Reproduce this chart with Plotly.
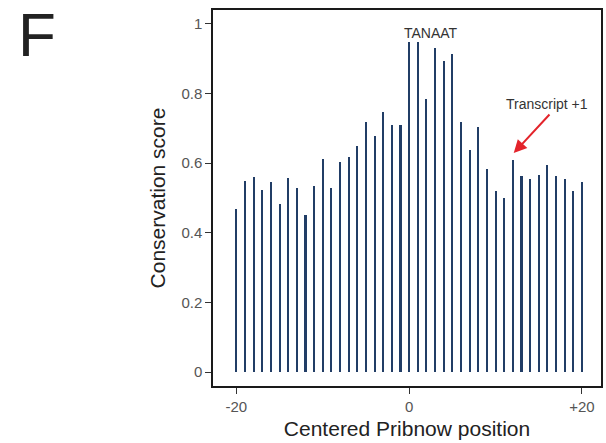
import plotly.graph_objects as go

# Centered Pribnow position and conservation score per position
positions = list(range(-20, 21))
scores = [
    0.468, 0.549, 0.560, 0.523, 0.545, 0.483, 0.558, 0.528, 0.450, 0.534,
    0.612, 0.530, 0.603, 0.618, 0.648, 0.718, 0.678, 0.748, 0.710, 0.710,
    0.948,
    0.948, 0.785, 0.930, 0.894, 0.913, 0.718, 0.637, 0.704, 0.582, 0.520,
    0.501, 0.610, 0.562, 0.555, 0.566, 0.594, 0.564, 0.554, 0.520, 0.547,
]
x_tick_vals = [-20, 0, 20]
x_tick_text = ["-20", "0", "+20"]
y_tick_vals = [0, 0.2, 0.4, 0.6, 0.8, 1]
y_tick_text = ["0", "0.2", "0.4", "0.6", "0.8", "1"]

FONT = "Liberation Sans, Arial, sans-serif"
BAR_COLOR = "#213d66"

fig = go.Figure()
fig.add_trace(go.Bar(
    x=positions, y=scores, width=0.24,
    marker=dict(color=BAR_COLOR, line=dict(width=0)),
    showlegend=False,
))

axis_common = dict(
    showline=True, linecolor="#1a1a1a", linewidth=1.5, mirror=True,
    ticks="outside", ticklen=6, tickwidth=1.2, tickcolor="#333",
    showgrid=False, zeroline=False,
    tickfont=dict(family=FONT, size=15, color="#555"),
)

fig.update_xaxes(
    range=[-22.7, 22.2], tickvals=x_tick_vals, ticktext=x_tick_text,
    title=dict(text="Centered Pribnow position", standoff=8,
               font=dict(family=FONT, size=21, color="#222")),
    **axis_common,
)
fig.update_yaxes(
    range=[-0.04, 1.04], tickvals=y_tick_vals, ticktext=y_tick_text,
    title=dict(text="Conservation score", standoff=10,
               font=dict(family=FONT, size=21, color="#222")),
    **axis_common,
)

# Motif label above the core bars
fig.add_annotation(x=2.5, y=0.974, xref="x", yref="y", text="TANAAT",
                   showarrow=False, font=dict(family=FONT, size=14, color="#333"))

# Transcription start site label and arrow
fig.add_annotation(x=16.0, y=0.770, xref="x", yref="y", text="Transcript +1",
                   showarrow=False, font=dict(family=FONT, size=14, color="#333"))
fig.add_annotation(x=12.1, y=0.629, ax=16.4, ay=0.744, xref="x", yref="y",
                   axref="x", ayref="y", text="", showarrow=True,
                   arrowhead=2, arrowsize=1.3, arrowwidth=2, arrowcolor="#e3242b")

# Panel letter, placed in the left margin
fig.add_annotation(x=-198 / 390, y=1 + 12 / 376, xref="paper", yref="paper",
                   text="F", showarrow=False, xanchor="left", yanchor="top",
                   font=dict(family=FONT, size=62, color="#222"))

fig.update_layout(
    width=606, height=443,
    margin=dict(l=213, r=3, t=10, b=57),
    paper_bgcolor="white", plot_bgcolor="white",
    bargap=0,
)

fig.write_html("out.html")
